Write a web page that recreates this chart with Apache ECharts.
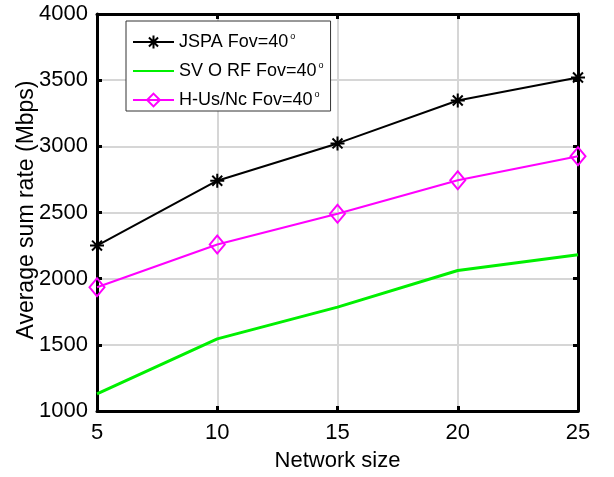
<!DOCTYPE html>
<html>
<head>
<meta charset="utf-8">
<script src="https://cdn.jsdelivr.net/npm/echarts@6/dist/echarts.min.js"></script>
<style>
  html, body { margin: 0; padding: 0; background: #fff; }
  #chart { width: 614px; height: 477px; }
</style>
</head>
<body>
<div id="chart"></div>
<script>
// Network sizes on the x axis
const networkSize = [5, 10, 15, 20, 25];

// Average sum rate (Mbps) for each scheme
const jspa = [2250, 2740, 3022, 3346, 3520];
const svorf = [1130, 1545, 1785, 2062, 2180];
const husnc = [1935, 2258, 2490, 2744, 2925];

const seriesNames = ['JSPA Fov=40', 'SV O RF Fov=40', 'H-Us/Nc Fov=40'];
const yAxisTitle = 'Average sum rate (Mbps)';

const font = 'Liberation Sans, Arial, sans-serif';
const asterisk = 'path://M0,-10L0,10M-10,0L10,0M-7.1,-7.1L7.1,7.1M-7.1,7.1L7.1,-7.1';

const chart = echarts.init(document.getElementById('chart'), null, { renderer: 'canvas' });

const pairs = arr => networkSize.map((x, i) => [x, arr[i]]);

const option = {
  animation: false,
  backgroundColor: '#fff',
  grid: { left: 97, right: 36, top: 14, bottom: 64, containLabel: false },
  graphic: [{
    type: 'text',
    x: 27,
    y: 210,
    rotation: Math.PI / 2,
    style: {
      text: yAxisTitle,
      fontFamily: font,
      fontSize: 23,
      fill: '#000',
      align: 'center',
      verticalAlign: 'middle'
    }
  }],
  legend: {
    orient: 'vertical',
    left: 126,
    top: 21,
    padding: [11, 7, 1, 6],
    itemWidth: 41,
    itemHeight: 16,
    itemGap: 9,
    backgroundColor: '#fff',
    borderColor: '#333',
    borderWidth: 1,
    data: [
      { name: seriesNames[0] },
      { name: seriesNames[1], itemStyle: { color: 'rgba(0,0,0,0)', borderWidth: 0 } },
      { name: seriesNames[2] }
    ],
    formatter: name => name + '{s|o}',
    textStyle: {
      fontFamily: font,
      fontSize: 18,
      color: '#000',
      rich: {
        s: { fontSize: 9, fontFamily: font, color: '#000', lineHeight: 10, padding: [0, 0, 11, 2] }
      }
    }
  },
  xAxis: [{
    type: 'value',
    min: 5, max: 25, interval: 5,
    name: 'Network size',
    nameLocation: 'middle',
    nameGap: 39,
    nameTextStyle: { fontFamily: font, fontSize: 22, color: '#000' },
    axisLine: { show: true, onZero: false, lineStyle: { color: '#000', width: 3 } },
    axisTick: { show: true, inside: true, length: 5, lineStyle: { color: '#000', width: 3 } },
    axisLabel: { fontFamily: font, fontSize: 22, color: '#000', margin: 11 },
    splitLine: { show: true, lineStyle: { color: '#d6d6d6', width: 2 } }
  }, {
    type: 'value',
    position: 'top',
    min: 5, max: 25, interval: 5,
    axisLine: { show: true, onZero: false, lineStyle: { color: '#000', width: 3 } },
    axisTick: { show: true, inside: true, length: 5, lineStyle: { color: '#000', width: 3 } },
    axisLabel: { show: false },
    splitLine: { show: false }
  }],
  yAxis: [{
    type: 'value',
    min: 1000, max: 4000, interval: 500,
    axisLine: { show: true, onZero: false, lineStyle: { color: '#000', width: 3 } },
    axisTick: { show: true, inside: true, length: 5, lineStyle: { color: '#000', width: 3 } },
    axisLabel: { fontFamily: font, fontSize: 22, color: '#000', margin: 9, formatter: v => String(v) },
    splitLine: { show: true, lineStyle: { color: '#d6d6d6', width: 2 } }
  }, {
    type: 'value',
    position: 'right',
    min: 1000, max: 4000, interval: 500,
    axisLine: { show: true, onZero: false, lineStyle: { color: '#000', width: 3 } },
    axisTick: { show: true, inside: true, length: 5, lineStyle: { color: '#000', width: 3 } },
    axisLabel: { show: false },
    splitLine: { show: false }
  }],
  series: [{
    name: seriesNames[0],
    type: 'line',
    data: pairs(jspa),
    symbol: asterisk,
    symbolSize: 14,
    lineStyle: { color: '#000', width: 2 },
    itemStyle: { color: 'rgba(0,0,0,0)', borderColor: '#000', borderWidth: 2 },
    z: 4
  }, {
    name: seriesNames[1],
    type: 'line',
    data: pairs(svorf),
    symbol: 'none',
    lineStyle: { color: '#00f000', width: 3 },
    itemStyle: { color: '#00f000' },
    z: 3
  }, {
    name: seriesNames[2],
    type: 'line',
    data: pairs(husnc),
    symbol: 'diamond',
    symbolSize: [15, 18],
    lineStyle: { color: '#ff00ff', width: 2 },
    itemStyle: { color: 'rgba(255,255,255,0)', borderColor: '#ff00ff', borderWidth: 2 },
    z: 5
  }]
};

chart.setOption(option);
</script>
</body>
</html>
